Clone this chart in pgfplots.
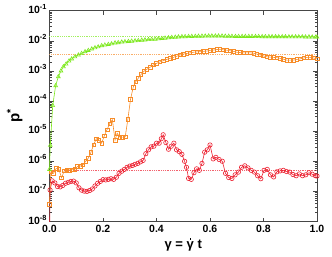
\documentclass[border=0pt]{standalone}
\usepackage{fontspec}
\setmainfont{Liberation Sans}
\usepackage{pgfplots}
\pgfplotsset{compat=1.18}
\definecolor{cg}{RGB}{124,232,28}
\definecolor{co}{RGB}{247,140,40}
\definecolor{cr}{RGB}{236,32,48}
\definecolor{ax}{RGB}{70,70,70}
\newcommand{\gdot}{\ooalign{γ\cr\hidewidth\raisebox{1.25ex}{\rule{1.5pt}{1.5pt}}\hidewidth\cr}}
\begin{document}
\begin{tikzpicture}
\useasboundingbox (0,0) rectangle (332pt,257pt);
\begin{axis}[
  at={(49.5pt,35.5pt)}, anchor=south west,
  scale only axis, width=267.5pt, height=210.8pt,
  xmin=0, xmax=1, ymode=log, ymin=1e-8, ymax=1e-1,
  xtick={0,0.2,0.4,0.6,0.8,1.0},
  xticklabels={0.0,0.2,0.4,0.6,0.8,1.0},
  ytick={1e-8,1e-7,1e-6,1e-5,1e-4,1e-3,1e-2,1e-1},
  yticklabels={10\textsuperscript{-8},10\textsuperscript{-7},10\textsuperscript{-6},10\textsuperscript{-5},10\textsuperscript{-4},10\textsuperscript{-3},10\textsuperscript{-2},10\textsuperscript{-1}},
  minor ytick={2e-8,3e-8,4e-8,5e-8,6e-8,7e-8,8e-8,9e-8,
    2e-7,3e-7,4e-7,5e-7,6e-7,7e-7,8e-7,9e-7,
    2e-6,3e-6,4e-6,5e-6,6e-6,7e-6,8e-6,9e-6,
    2e-5,3e-5,4e-5,5e-5,6e-5,7e-5,8e-5,9e-5,
    2e-4,3e-4,4e-4,5e-4,6e-4,7e-4,8e-4,9e-4,
    2e-3,3e-3,4e-3,5e-3,6e-3,7e-3,8e-3,9e-3,
    2e-2,3e-2,4e-2,5e-2,6e-2,7e-2,8e-2,9e-2},
  tick align=inside,
  major tick length=4pt, minor tick length=2pt,
  axis line style={line width=1pt, ax},
  every tick/.style={ax, line width=0.6pt},
  ticklabel style={font=\fontsize{10.5}{12}\selectfont\bfseries, text=black},
  xticklabel style={yshift=-2pt, inner sep=1pt},
  yticklabel style={xshift=1pt, yshift=2pt},
  xlabel={γ = \gdot{} t},
  xlabel style={font=\fontsize{13}{14}\selectfont\bfseries, inner sep=0.5pt, yshift=-6pt},
  ylabel={p\textsuperscript{*}},
  ylabel style={font=\fontsize{15}{16}\selectfont\bfseries, yshift=-1pt},
  clip=true,
]
% reference levels
\addplot[cg!70, densely dotted, line width=0.8pt, forget plot] coordinates {(0,1.38e-2) (1,1.38e-2)};
\addplot[co!70, densely dotted, line width=0.8pt, forget plot] coordinates {(0,3.56e-3) (1,3.56e-3)};
\addplot[cr!70, densely dotted, line width=0.8pt, forget plot] coordinates {(0,5.1e-7) (1,5.1e-7)};
% red
\addplot[cr, line width=0.6pt, forget plot] coordinates {(0,1e-9) (0.002,1.12e-7)};
\addplot[cr, line width=0.6pt, mark=o, mark size=2.2pt, mark options={solid}] coordinates {
(0.002,1.12e-7) (0.010,2.24e-7) (0.020,1.91e-7) (0.030,1.45e-7) (0.040,1.41e-7)
(0.050,1.58e-7) (0.060,1.86e-7) (0.070,2.0e-7) (0.080,2.14e-7) (0.090,2.19e-7)
(0.100,1.91e-7) (0.110,1.32e-7) (0.120,1.10e-7) (0.130,1.02e-7) (0.140,1.0e-7)
(0.150,1.07e-7) (0.160,1.20e-7) (0.170,1.51e-7) (0.180,1.86e-7) (0.190,2.14e-7)
(0.200,2.45e-7) (0.210,2.40e-7) (0.220,2.51e-7) (0.230,2.63e-7) (0.240,2.51e-7)
(0.250,2.95e-7) (0.260,3.98e-7) (0.270,4.68e-7) (0.280,5.37e-7) (0.290,6.31e-7)
(0.300,6.92e-7) (0.310,7.24e-7) (0.320,7.94e-7) (0.330,8.51e-7) (0.340,9.55e-7)
(0.350,1.07e-6) (0.360,1.78e-6) (0.370,2.40e-6) (0.380,3.02e-6) (0.390,3.16e-6)
(0.400,3.98e-6) (0.410,3.98e-6) (0.418,5.62e-6) (0.425,7.59e-6) (0.435,4.17e-6)
(0.445,2.51e-6) (0.455,3.16e-6) (0.465,3.98e-6) (0.475,2.40e-6) (0.485,2.09e-6)
(0.495,1.70e-6) (0.505,1.0e-6) (0.512,6.31e-7) (0.520,2.69e-7) (0.530,2.51e-7)
(0.540,4.17e-7) (0.550,5.62e-7) (0.560,5.01e-7) (0.570,8.51e-7) (0.580,2.0e-6)
(0.590,2.40e-6) (0.600,3.47e-6) (0.612,1.20e-6) (0.622,1.35e-6) (0.634,1.15e-6)
(0.646,1.0e-6) (0.658,3.98e-7) (0.670,2.88e-7) (0.682,2.69e-7) (0.694,3.55e-7)
(0.706,4.37e-7) (0.718,6.31e-7) (0.730,7.08e-7) (0.742,6.03e-7) (0.754,5.01e-7)
(0.766,4.37e-7) (0.778,3.31e-7) (0.790,2.63e-7) (0.802,5.01e-7) (0.814,5.37e-7)
(0.826,3.55e-7) (0.838,3.02e-7) (0.850,4.47e-7) (0.862,4.79e-7) (0.874,5.01e-7)
(0.886,4.57e-7) (0.898,4.37e-7) (0.910,3.63e-7) (0.922,3.31e-7) (0.934,3.80e-7)
(0.946,3.31e-7) (0.958,3.55e-7) (0.970,4.17e-7) (0.982,3.72e-7) (0.994,3.31e-7)
(1.000,3.24e-7)};
% orange
\addplot[co, line width=0.6pt, mark=square, mark size=1.8pt, mark options={solid}] coordinates {
(0.000,3.80e-8) (0.005,4.47e-7) (0.015,3.98e-7) (0.025,5.75e-7) (0.035,5.50e-7)
(0.045,2.82e-7) (0.055,4.79e-7) (0.065,5.01e-7) (0.075,5.13e-7) (0.085,5.25e-7)
(0.095,5.37e-7) (0.105,6.76e-7) (0.115,6.92e-7) (0.125,7.59e-7) (0.135,1.0e-6)
(0.145,1.26e-6) (0.155,2.0e-6) (0.165,3.55e-6) (0.175,5.62e-6) (0.185,5.01e-6)
(0.195,3.98e-6) (0.205,7.08e-6) (0.215,1.12e-5) (0.225,1.78e-5) (0.235,2.40e-5)
(0.245,5.01e-6) (0.253,8.51e-6) (0.263,6.31e-6) (0.273,6.31e-6) (0.283,6.46e-6)
(0.293,2.51e-5) (0.303,1.15e-4) (0.313,2.88e-4) (0.322,4.37e-4) (0.332,5.75e-4)
(0.342,7.59e-4) (0.352,9.55e-4) (0.363,1.12e-3) (0.376,1.32e-3) (0.388,1.58e-3)
(0.400,1.78e-3) (0.413,2.0e-3) (0.425,2.19e-3) (0.438,2.40e-3) (0.451,2.63e-3)
(0.463,2.82e-3) (0.476,3.09e-3) (0.488,3.39e-3) (0.500,3.63e-3) (0.513,3.80e-3)
(0.525,3.98e-3) (0.538,4.17e-3) (0.550,4.27e-3) (0.563,4.37e-3) (0.575,4.47e-3)
(0.588,4.57e-3) (0.600,4.79e-3) (0.612,4.90e-3) (0.625,5.13e-3) (0.637,5.25e-3)
(0.650,5.01e-3) (0.662,4.90e-3) (0.675,4.68e-3) (0.688,4.47e-3) (0.700,4.17e-3)
(0.713,4.07e-3) (0.725,3.98e-3) (0.738,3.98e-3) (0.750,3.98e-3) (0.763,3.89e-3)
(0.775,3.63e-3) (0.788,3.39e-3) (0.800,3.16e-3) (0.812,2.95e-3) (0.825,2.88e-3)
(0.837,2.82e-3) (0.850,2.75e-3) (0.862,2.63e-3) (0.875,2.45e-3) (0.887,2.29e-3)
(0.900,2.29e-3) (0.912,2.29e-3) (0.925,2.40e-3) (0.937,2.51e-3) (0.950,2.69e-3)
(0.962,2.82e-3) (0.975,2.82e-3) (0.987,2.69e-3) (1.000,2.51e-3)};
% green
\addplot[cg, line width=0.6pt, mark=triangle, mark size=2.2pt, mark options={solid}] coordinates {
(0.000,5.37e-7) (0.003,3.39e-6) (0.012,7.08e-5) (0.023,3.24e-4) (0.033,6.46e-4)
(0.043,1.0e-3) (0.052,1.38e-3) (0.062,1.70e-3) (0.073,2.14e-3) (0.083,2.51e-3)
(0.095,2.95e-3) (0.108,3.39e-3) (0.120,3.80e-3) (0.133,4.37e-3) (0.145,4.79e-3)
(0.158,5.37e-3) (0.170,5.89e-3) (0.182,6.31e-3) (0.195,6.92e-3) (0.207,7.24e-3)
(0.220,7.59e-3) (0.232,7.94e-3) (0.245,8.51e-3) (0.257,8.71e-3) (0.270,9.12e-3)
(0.282,9.33e-3) (0.295,9.55e-3) (0.307,9.77e-3) (0.320,1.0e-2) (0.332,1.02e-2)
(0.345,1.05e-2) (0.357,1.07e-2) (0.370,1.10e-2) (0.382,1.12e-2) (0.395,1.14e-2)
(0.407,1.17e-2) (0.420,1.20e-2) (0.432,1.23e-2) (0.445,1.26e-2) (0.457,1.29e-2)
(0.470,1.32e-2) (0.482,1.35e-2) (0.495,1.38e-2) (0.507,1.38e-2) (0.520,1.39e-2)
(0.532,1.40e-2) (0.545,1.41e-2) (0.557,1.42e-2) (0.570,1.43e-2) (0.582,1.44e-2)
(0.595,1.45e-2) (0.607,1.45e-2) (0.620,1.45e-2) (0.632,1.45e-2) (0.645,1.44e-2)
(0.657,1.43e-2) (0.670,1.42e-2) (0.682,1.41e-2) (0.695,1.40e-2) (0.707,1.40e-2)
(0.720,1.40e-2) (0.732,1.40e-2) (0.745,1.40e-2) (0.757,1.40e-2) (0.770,1.39e-2)
(0.782,1.39e-2) (0.795,1.38e-2) (0.807,1.38e-2) (0.820,1.38e-2) (0.832,1.38e-2)
(0.845,1.38e-2) (0.857,1.37e-2) (0.870,1.37e-2) (0.882,1.37e-2) (0.895,1.36e-2)
(0.907,1.36e-2) (0.920,1.36e-2) (0.932,1.36e-2) (0.945,1.36e-2) (0.957,1.35e-2)
(0.970,1.35e-2) (0.982,1.34e-2) (0.995,1.33e-2) (1.000,1.33e-2)};
\end{axis}
\end{tikzpicture}
\end{document}
